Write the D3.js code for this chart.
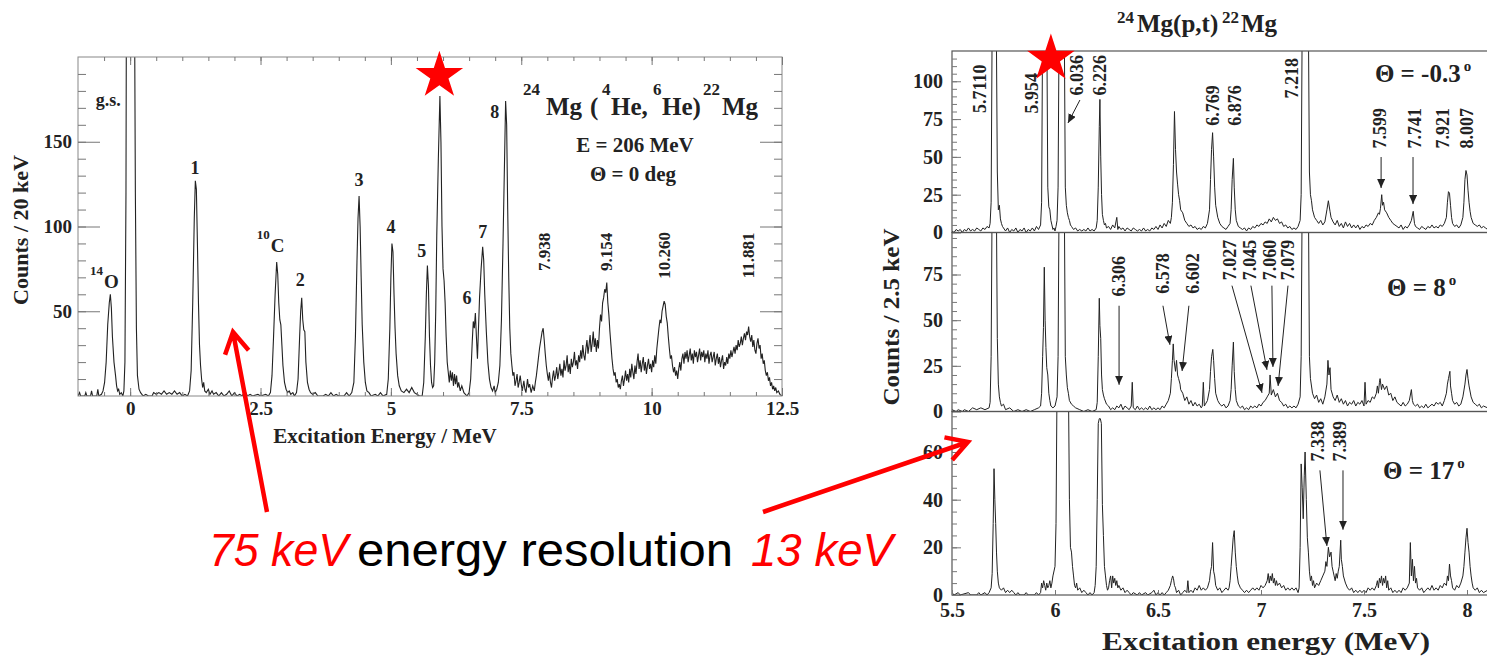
<!DOCTYPE html>
<html>
<head>
<meta charset="utf-8">
<script src="https://cdn.jsdelivr.net/npm/d3@7"></script>
<style>
  body { margin: 0; background: #fff; }
  svg { display: block; }
</style>
</head>
<body>
<svg id="chart" width="1487" height="656"></svg>
<script>
// ---- left spectrum: 24Mg(4He,6He)22Mg, [MeV, counts / 20 keV]
const leftSpectrum = [
  [-1.00,0],[-0.97,2],[-0.95,0],[-0.87,0],[-0.85,2],[-0.83,0],[-0.76,0],[-0.74,3],[-0.72,0],[-0.64,0],[-0.62,4],[-0.60,0],
  [-0.55,1],[-0.52,3],[-0.49,8],[-0.46,20],[-0.43,42],[-0.40,55],[-0.38,60],[-0.36,52],[-0.34,35],[-0.31,20],[-0.28,12],
  [-0.26,6],[-0.24,3],[-0.22,4],[-0.20,1],[-0.17,2],[-0.14,0],[-0.12,3],[-0.10,20],[-0.08,120],[-0.07,260],[0.08,260],
  [0.10,120],[0.12,40],[0.14,12],[0.17,4],[0.20,2],[0.25,0],[0.30,1],[0.35,0],[0.42,0],[0.45,2],[0.50,1],[0.55,2],[0.60,1],
  [0.65,3],[0.70,1],[0.75,2],[0.80,1],[0.85,3],[0.90,1],[0.95,2],[1.00,0],[1.05,1],[1.10,0],[1.14,3],[1.17,15],[1.20,55],
  [1.23,105],[1.25,127],[1.27,122],[1.29,90],[1.31,55],[1.33,30],[1.35,18],[1.37,10],[1.39,5],[1.41,8],[1.43,3],[1.46,2],
  [1.50,4],[1.53,1],[1.57,3],[1.60,1],[1.65,2],[1.70,0],[1.75,2],[1.80,0],[1.85,1],[1.90,3],[1.95,0],[2.00,2],[2.05,0],
  [2.10,1],[2.15,0],[2.20,3],[2.25,0],[2.30,1],[2.35,0],[2.45,1],[2.50,0],[2.60,1],[2.65,0],[2.69,2],[2.72,12],[2.75,35],
  [2.78,60],[2.81,79],[2.83,72],[2.85,55],[2.87,45],[2.89,42],[2.91,30],[2.93,18],[2.96,8],[2.99,4],[3.02,2],[3.05,3],
  [3.08,1],[3.12,2],[3.15,0],[3.19,2],[3.22,10],[3.25,35],[3.27,50],[3.29,58],[3.31,45],[3.33,39],[3.35,38],[3.37,20],
  [3.40,8],[3.43,4],[3.46,2],[3.50,1],[3.55,2],[3.60,0],[3.70,0],[3.75,1],[3.80,0],[3.85,2],[3.90,0],[3.95,1],[4.00,0],
  [4.10,0],[4.15,2],[4.20,0],[4.25,2],[4.29,8],[4.32,35],[4.35,80],[4.37,105],[4.39,118],[4.41,100],[4.43,70],[4.45,42],
  [4.48,20],[4.51,8],[4.54,3],[4.58,2],[4.62,0],[4.70,1],[4.75,0],[4.80,2],[4.85,0],[4.92,1],[4.95,10],[4.98,40],[5.00,70],
  [5.02,90],[5.04,85],[5.06,60],[5.08,40],[5.10,25],[5.13,12],[5.16,6],[5.20,3],[5.25,2],[5.30,4],[5.35,2],[5.40,5],
  [5.45,2],[5.50,1],[5.55,0],[5.60,0],[5.63,8],[5.66,35],[5.68,60],[5.70,77],[5.72,65],[5.74,35],[5.76,18],[5.78,8],
  [5.80,5],[5.82,6],[5.84,20],[5.86,50],[5.88,95],[5.91,140],[5.94,177],[5.96,150],[5.98,100],[6.00,75],[6.02,68],
  [6.04,55],[6.06,35],[6.08,20],[6.10,14],[6.12,8],[6.14,15],[6.16,9],[6.18,14],[6.20,6],[6.22,13],[6.24,7],[6.26,12],
  [6.28,5],[6.30,8],[6.33,3],[6.36,6],[6.40,2],[6.43,1],[6.46,0],[6.50,2],[6.53,10],[6.56,32],[6.58,44],[6.60,40],
  [6.62,49],[6.64,35],[6.66,22],[6.68,40],[6.70,58],[6.73,75],[6.76,88],[6.78,80],[6.80,60],[6.83,38],[6.86,20],[6.89,10],
  [6.92,5],[6.95,3],[6.98,6],[7.00,2],[7.03,4],[7.06,8],[7.09,18],[7.12,45],[7.15,90],[7.18,140],[7.20,174],[7.22,160],
  [7.24,110],[7.26,70],[7.28,40],[7.30,25],[7.32,18],[7.34,12],[7.36,14],[7.38,6],[7.40,9],[7.42,13],[7.44,5],[7.46,8],
  [7.48,12],[7.50,7],[7.52,3],[7.55,9],[7.57,4],[7.59,2],[7.62,10],[7.64,5],[7.66,7],[7.69,2],[7.72,6],[7.75,3],[7.77,8],
  [7.79,12],[7.82,20],[7.85,28],[7.88,34],[7.90,38],[7.92,40],[7.94,33],[7.96,25],[7.98,18],[8.00,13],[8.02,9],[8.04,14],
  [8.06,8],[8.08,5],[8.10,11],[8.12,15],[8.14,9],[8.16,12],[8.18,17],[8.20,10],[8.22,14],[8.24,19],[8.26,12],[8.28,16],
  [8.30,11],[8.32,21],[8.34,15],[8.36,18],[8.38,24],[8.40,14],[8.42,19],[8.44,13],[8.46,22],[8.48,17],[8.50,20],[8.52,26],
  [8.54,18],[8.56,21],[8.58,16],[8.60,24],[8.62,20],[8.64,27],[8.66,22],[8.68,30],[8.70,24],[8.72,21],[8.74,28],[8.76,33],
  [8.78,25],[8.80,30],[8.82,36],[8.84,26],[8.86,31],[8.88,38],[8.90,29],[8.92,34],[8.94,26],[8.96,33],[8.98,28],[9.00,40],
  [9.02,48],[9.04,44],[9.06,55],[9.08,58],[9.10,63],[9.12,61],[9.14,67],[9.16,55],[9.18,48],[9.20,38],[9.22,30],[9.24,22],
  [9.26,16],[9.28,12],[9.30,14],[9.32,8],[9.34,10],[9.36,5],[9.38,7],[9.40,4],[9.42,9],[9.44,12],[9.46,6],[9.48,10],
  [9.50,15],[9.52,9],[9.54,13],[9.56,8],[9.58,16],[9.60,11],[9.62,19],[9.64,14],[9.66,10],[9.68,18],[9.70,13],[9.72,20],
  [9.74,25],[9.76,16],[9.78,21],[9.80,14],[9.82,19],[9.84,23],[9.86,15],[9.88,20],[9.90,13],[9.92,18],[9.94,22],[9.96,16],
  [9.98,19],[10.00,14],[10.02,21],[10.04,17],[10.06,24],[10.08,19],[10.10,28],[10.12,34],[10.14,40],[10.16,45],[10.18,43],
  [10.20,50],[10.22,53],[10.24,56],[10.26,54],[10.28,47],[10.30,43],[10.32,35],[10.34,28],[10.36,22],[10.38,24],[10.40,18],
  [10.42,14],[10.44,17],[10.46,12],[10.48,15],[10.50,10],[10.52,16],[10.54,20],[10.56,15],[10.58,22],[10.60,25],[10.62,19],
  [10.64,26],[10.66,22],[10.68,27],[10.70,20],[10.72,24],[10.74,28],[10.76,21],[10.78,25],[10.80,19],[10.82,27],[10.84,23],
  [10.86,26],[10.88,20],[10.90,24],[10.92,28],[10.94,21],[10.96,26],[10.98,23],[11.00,27],[11.02,20],[11.04,25],[11.06,22],
  [11.08,27],[11.10,19],[11.12,24],[11.14,26],[11.16,20],[11.18,23],[11.20,26],[11.22,18],[11.24,22],[11.26,25],[11.28,19],
  [11.30,23],[11.32,17],[11.34,21],[11.36,24],[11.38,16],[11.40,20],[11.42,18],[11.44,23],[11.46,19],[11.48,25],[11.50,22],
  [11.52,27],[11.54,23],[11.56,26],[11.58,29],[11.60,25],[11.62,30],[11.64,27],[11.66,33],[11.68,29],[11.70,31],[11.72,35],
  [11.74,30],[11.76,34],[11.78,37],[11.80,33],[11.82,38],[11.84,36],[11.86,41],[11.88,35],[11.90,32],[11.92,36],[11.94,29],
  [11.96,33],[11.98,27],[12.00,25],[12.02,31],[12.04,34],[12.06,28],[12.08,30],[12.10,22],[12.12,25],[12.14,19],[12.16,21],
  [12.18,15],[12.20,12],[12.22,14],[12.24,9],[12.26,11],[12.28,6],[12.30,8],[12.32,4],[12.34,6],[12.36,3],[12.38,5],
  [12.40,2],[12.43,3],[12.46,1],[12.50,0]
];

// ---- right spectra: 24Mg(p,t)22Mg, [MeV, counts / 2.5 keV]
const specMinus03 = [
  [5.50,1],[5.51,0],[5.52,2],[5.53,1],[5.54,2],[5.55,0],[5.56,2],[5.57,1],[5.58,3],[5.59,1],[5.60,2],[5.61,1],[5.62,3],
  [5.63,2],[5.64,1],[5.65,3],[5.66,2],[5.67,4],[5.68,3],[5.685,6],[5.69,20],[5.695,140],[5.715,140],[5.72,40],[5.725,15],
  [5.73,18],[5.735,9],[5.74,6],[5.745,4],[5.75,3],[5.76,1],[5.77,3],[5.78,0],[5.79,2],[5.80,1],[5.81,3],[5.82,0],[5.83,2],
  [5.84,1],[5.85,3],[5.86,0],[5.87,2],[5.88,1],[5.89,3],[5.90,1],[5.91,4],[5.92,2],[5.93,5],[5.935,20],[5.94,140],
  [5.96,140],[5.965,30],[5.97,17],[5.975,15],[5.98,8],[5.985,5],[5.99,2],[5.995,3],[6.00,1],[6.005,4],[6.01,8],[6.015,30],
  [6.02,140],[6.045,140],[6.05,30],[6.055,18],[6.06,13],[6.065,10],[6.07,8],[6.075,5],[6.08,4],[6.085,3],[6.09,2],[6.10,3],
  [6.11,1],[6.12,2],[6.13,1],[6.14,2],[6.15,1],[6.16,3],[6.17,1],[6.18,2],[6.19,1],[6.20,3],[6.205,8],[6.21,30],[6.215,70],
  [6.218,88],[6.222,50],[6.226,25],[6.23,12],[6.235,8],[6.24,5],[6.245,6],[6.25,3],[6.26,4],[6.27,2],[6.28,5],[6.29,3],
  [6.30,10],[6.305,2],[6.31,4],[6.32,2],[6.33,3],[6.34,1],[6.35,3],[6.36,2],[6.37,1],[6.38,3],[6.39,2],[6.40,1],[6.41,2],
  [6.42,1],[6.43,3],[6.44,1],[6.45,2],[6.46,1],[6.47,3],[6.48,2],[6.49,4],[6.50,2],[6.51,5],[6.52,3],[6.53,6],[6.54,4],
  [6.55,8],[6.56,6],[6.565,10],[6.57,20],[6.575,45],[6.58,80],[6.585,55],[6.59,40],[6.595,32],[6.60,25],[6.605,21],
  [6.61,15],[6.62,13],[6.63,8],[6.64,6],[6.65,4],[6.66,5],[6.67,3],[6.68,4],[6.69,2],[6.70,3],[6.71,2],[6.72,4],[6.73,3],
  [6.74,6],[6.75,15],[6.755,35],[6.76,55],[6.765,66],[6.77,50],[6.775,30],[6.78,18],[6.79,10],[6.80,6],[6.81,4],[6.82,3],
  [6.83,2],[6.84,4],[6.85,6],[6.855,15],[6.86,35],[6.866,49],[6.87,30],[6.875,15],[6.88,8],[6.89,4],[6.90,3],[6.91,2],
  [6.92,3],[6.93,1],[6.94,3],[6.95,2],[6.96,4],[6.97,3],[6.98,5],[6.99,4],[7.00,6],[7.01,5],[7.02,7],[7.03,6],[7.04,9],
  [7.05,7],[7.06,10],[7.07,8],[7.08,9],[7.09,6],[7.10,7],[7.11,4],[7.12,5],[7.13,3],[7.14,4],[7.15,2],[7.16,3],[7.17,2],
  [7.18,4],[7.19,8],[7.195,25],[7.20,140],[7.23,140],[7.235,40],[7.24,25],[7.245,21],[7.25,15],[7.26,10],[7.27,8],[7.28,6],
  [7.29,8],[7.30,5],[7.31,7],[7.32,15],[7.327,21],[7.335,14],[7.34,10],[7.35,7],[7.36,5],[7.37,8],[7.38,4],[7.39,6],
  [7.40,3],[7.41,7],[7.42,4],[7.43,6],[7.44,3],[7.45,5],[7.46,3],[7.47,5],[7.48,2],[7.49,4],[7.50,3],[7.51,5],[7.52,4],
  [7.53,6],[7.54,5],[7.55,8],[7.56,10],[7.57,13],[7.575,12],[7.58,16],[7.586,25],[7.59,18],[7.595,20],[7.60,15],[7.61,13],
  [7.62,10],[7.63,8],[7.64,6],[7.65,5],[7.66,4],[7.67,3],[7.68,5],[7.69,2],[7.70,4],[7.71,3],[7.72,5],[7.73,8],[7.739,14],
  [7.745,6],[7.75,4],[7.76,3],[7.77,2],[7.78,4],[7.79,3],[7.80,2],[7.81,4],[7.82,3],[7.83,5],[7.84,3],[7.85,4],[7.86,3],
  [7.87,5],[7.88,4],[7.89,6],[7.90,10],[7.905,20],[7.91,27],[7.915,26],[7.92,18],[7.925,10],[7.93,6],[7.94,4],[7.95,5],
  [7.96,3],[7.97,5],[7.98,10],[7.985,20],[7.99,35],[7.995,41],[8.00,38],[8.005,28],[8.01,20],[8.015,14],[8.02,10],[8.03,6],
  [8.04,5],[8.05,4],[8.06,5],[8.07,3],[8.08,4],[8.09,3],[8.10,2]
];
const spec8 = [
  [5.50,1],[5.52,0],[5.53,1],[5.55,0],[5.56,1],[5.58,0],[5.60,2],[5.62,1],[5.64,2],[5.66,1],[5.68,2],[5.685,5],[5.69,30],
  [5.695,120],[5.715,120],[5.72,40],[5.725,15],[5.73,8],[5.735,5],[5.74,3],[5.75,4],[5.76,1],[5.78,2],[5.80,0],[5.82,1],
  [5.84,0],[5.86,1],[5.88,0],[5.90,1],[5.92,2],[5.93,3],[5.935,10],[5.94,30],[5.944,46],[5.948,79],[5.952,50],[5.956,35],
  [5.96,24],[5.965,20],[5.97,10],[5.975,6],[5.98,3],[5.99,2],[6.00,3],[6.01,8],[6.015,30],[6.02,120],[6.045,120],[6.05,30],
  [6.055,20],[6.06,13],[6.065,10],[6.07,6],[6.08,4],[6.09,3],[6.10,2],[6.12,1],[6.14,0],[6.16,1],[6.18,0],[6.20,1],
  [6.205,5],[6.21,30],[6.215,62],[6.218,47],[6.222,40],[6.226,20],[6.23,12],[6.235,9],[6.24,7],[6.25,4],[6.26,3],[6.27,1],
  [6.28,2],[6.29,1],[6.30,3],[6.31,2],[6.32,4],[6.33,1],[6.34,3],[6.35,2],[6.36,1],[6.37,3],[6.375,16],[6.38,2],[6.39,1],
  [6.40,3],[6.41,1],[6.42,2],[6.43,1],[6.44,2],[6.45,1],[6.46,3],[6.47,1],[6.48,2],[6.49,1],[6.50,2],[6.51,1],[6.52,3],
  [6.53,2],[6.54,4],[6.55,6],[6.56,10],[6.565,18],[6.57,28],[6.574,37],[6.578,28],[6.585,22],[6.59,28],[6.595,20],[6.60,18],
  [6.607,15],[6.61,12],[6.62,10],[6.63,6],[6.64,8],[6.65,4],[6.66,6],[6.67,3],[6.68,5],[6.69,3],[6.70,4],[6.71,2],[6.715,3],
  [6.72,16],[6.725,3],[6.73,4],[6.74,6],[6.75,12],[6.755,22],[6.76,30],[6.766,34],[6.77,28],[6.775,18],[6.78,10],[6.79,6],
  [6.80,4],[6.81,3],[6.82,4],[6.83,2],[6.84,3],[6.85,6],[6.855,12],[6.86,25],[6.866,38],[6.87,22],[6.875,12],[6.88,6],
  [6.89,3],[6.90,2],[6.91,3],[6.92,1],[6.93,2],[6.94,1],[6.95,3],[6.96,2],[6.97,3],[6.98,2],[6.99,4],[7.00,3],[7.01,5],
  [7.02,6],[7.03,8],[7.04,10],[7.044,20],[7.05,9],[7.06,12],[7.07,8],[7.08,10],[7.09,6],[7.10,5],[7.11,3],[7.12,4],[7.13,2],
  [7.14,3],[7.15,2],[7.16,3],[7.17,2],[7.18,4],[7.19,8],[7.195,30],[7.20,120],[7.23,120],[7.235,30],[7.24,18],[7.25,10],
  [7.26,7],[7.27,9],[7.28,5],[7.29,7],[7.30,4],[7.31,8],[7.32,15],[7.325,28],[7.33,20],[7.335,24],[7.34,12],[7.35,8],
  [7.36,6],[7.37,9],[7.38,5],[7.39,7],[7.40,4],[7.41,6],[7.42,3],[7.43,5],[7.44,4],[7.45,6],[7.46,3],[7.47,5],[7.48,4],
  [7.49,6],[7.50,3],[7.505,16],[7.51,4],[7.52,6],[7.53,5],[7.54,8],[7.55,7],[7.56,10],[7.565,14],[7.57,10],[7.575,16],
  [7.578,18],[7.585,12],[7.59,15],[7.60,12],[7.61,14],[7.62,9],[7.63,10],[7.64,6],[7.65,8],[7.66,5],[7.67,4],[7.68,3],
  [7.69,5],[7.70,3],[7.71,4],[7.72,6],[7.73,12],[7.735,6],[7.74,4],[7.75,3],[7.76,4],[7.77,2],[7.78,3],[7.79,2],[7.80,4],
  [7.81,2],[7.82,3],[7.83,4],[7.84,3],[7.85,5],[7.86,4],[7.87,5],[7.88,3],[7.89,6],[7.90,10],[7.905,15],[7.91,18],
  [7.917,22],[7.92,14],[7.925,10],[7.93,6],[7.94,4],[7.95,5],[7.96,3],[7.97,4],[7.98,8],[7.99,15],[7.995,20],[8.00,23],
  [8.005,18],[8.01,14],[8.02,8],[8.03,5],[8.04,4],[8.05,3],[8.06,4],[8.07,2],[8.08,3],[8.10,2]
];
const spec17 = [
  [5.50,1],[5.51,0],[5.53,1],[5.54,0],[5.58,1],[5.59,0],[5.62,0],[5.63,1],[5.64,0],[5.66,1],[5.67,0],[5.68,1],[5.69,3],
  [5.695,9],[5.70,30],[5.704,53],[5.708,40],[5.712,30],[5.716,18],[5.72,10],[5.725,5],[5.73,3],[5.74,2],[5.75,3],[5.76,1],
  [5.77,2],[5.78,1],[5.79,2],[5.80,1],[5.81,0],[5.82,1],[5.83,0],[5.85,0],[5.86,1],[5.87,0],[5.90,0],[5.91,1],[5.92,0],
  [5.93,1],[5.935,5],[5.94,3],[5.945,6],[5.95,4],[5.955,2],[5.96,5],[5.965,3],[5.97,4],[5.975,6],[5.98,3],[5.985,5],
  [5.99,8],[6.00,12],[6.005,30],[6.01,90],[6.065,90],[6.07,40],[6.075,20],[6.08,18],[6.085,12],[6.09,8],[6.095,4],[6.10,3],
  [6.105,5],[6.11,2],[6.12,3],[6.13,1],[6.14,2],[6.15,1],[6.16,0],[6.17,1],[6.18,0],[6.19,1],[6.195,4],[6.20,12],[6.205,40],
  [6.21,72],[6.215,74],[6.22,74],[6.225,72],[6.23,38],[6.235,25],[6.24,12],[6.245,8],[6.25,4],[6.255,2],[6.26,3],[6.265,6],
  [6.27,8],[6.275,3],[6.28,8],[6.285,5],[6.29,7],[6.295,4],[6.30,6],[6.305,3],[6.31,4],[6.32,2],[6.33,3],[6.34,1],[6.35,2],
  [6.36,1],[6.37,0],[6.38,1],[6.40,0],[6.41,1],[6.42,0],[6.44,1],[6.45,0],[6.47,1],[6.48,2],[6.49,0],[6.50,1],[6.51,0],
  [6.52,1],[6.53,0],[6.54,1],[6.55,2],[6.56,4],[6.565,6],[6.571,8],[6.575,7],[6.58,4],[6.585,3],[6.59,1],[6.60,2],[6.61,0],
  [6.62,1],[6.63,2],[6.64,1],[6.645,6],[6.65,1],[6.66,2],[6.67,1],[6.68,3],[6.69,2],[6.70,4],[6.71,2],[6.72,3],[6.73,2],
  [6.74,3],[6.75,6],[6.755,10],[6.76,12],[6.765,22],[6.77,10],[6.775,8],[6.78,4],[6.79,2],[6.80,3],[6.81,1],[6.82,2],
  [6.83,3],[6.84,2],[6.845,3],[6.85,6],[6.855,12],[6.86,18],[6.865,24],[6.87,27],[6.875,18],[6.88,12],[6.885,8],[6.89,5],
  [6.90,3],[6.91,2],[6.92,1],[6.93,2],[6.94,1],[6.95,2],[6.96,3],[6.97,2],[6.98,3],[6.99,2],[7.00,4],[7.01,3],[7.02,4],
  [7.03,6],[7.035,9],[7.04,5],[7.045,8],[7.05,6],[7.055,9],[7.06,5],[7.065,7],[7.07,4],[7.075,6],[7.08,4],[7.09,5],[7.10,3],
  [7.11,4],[7.12,2],[7.13,3],[7.14,2],[7.15,3],[7.16,2],[7.17,3],[7.18,1],[7.185,3],[7.19,20],[7.195,55],[7.20,45],
  [7.205,32],[7.21,50],[7.214,60],[7.22,40],[7.225,24],[7.23,18],[7.235,10],[7.24,6],[7.245,8],[7.25,4],[7.255,6],[7.26,3],
  [7.27,5],[7.28,4],[7.29,6],[7.30,8],[7.31,10],[7.315,14],[7.32,12],[7.327,20],[7.333,16],[7.34,18],[7.345,12],[7.35,10],
  [7.355,8],[7.36,6],[7.365,9],[7.37,7],[7.375,10],[7.38,12],[7.387,23],[7.39,15],[7.395,12],[7.40,8],[7.41,5],[7.42,3],
  [7.43,2],[7.44,3],[7.45,1],[7.46,2],[7.47,1],[7.48,2],[7.49,1],[7.50,2],[7.51,1],[7.52,3],[7.53,2],[7.54,3],[7.55,2],
  [7.56,4],[7.565,6],[7.57,3],[7.575,7],[7.58,5],[7.585,8],[7.59,4],[7.595,7],[7.60,5],[7.605,8],[7.61,3],[7.615,6],
  [7.62,2],[7.63,3],[7.64,1],[7.65,2],[7.66,1],[7.67,2],[7.68,1],[7.69,3],[7.70,2],[7.71,3],[7.72,5],[7.725,22],[7.73,8],
  [7.735,15],[7.74,6],[7.745,12],[7.75,5],[7.755,7],[7.76,3],[7.77,2],[7.78,3],[7.79,1],[7.80,2],[7.81,3],[7.82,2],[7.83,4],
  [7.84,2],[7.85,3],[7.86,2],[7.87,4],[7.88,3],[7.89,5],[7.90,4],[7.905,8],[7.91,6],[7.915,13],[7.92,8],[7.925,6],[7.93,3],
  [7.94,2],[7.95,4],[7.96,3],[7.97,5],[7.98,8],[7.985,12],[7.99,18],[7.995,24],[8.00,28],[8.005,22],[8.01,18],[8.015,12],
  [8.02,8],[8.025,5],[8.03,3],[8.04,2],[8.05,3],[8.06,1],[8.07,2],[8.08,1],[8.10,2]
];

// ---- tick labels
const leftXTicks = [0, 2.5, 5, 7.5, 10, 12.5];
const leftYTicks = [50, 100, 150];
const rightXTicks = [5.5, 6, 6.5, 7, 7.5, 8];
const rightYTicks = [[0, 25, 50, 75, 100], [0, 25, 50, 75], [0, 20, 40, 60]];

// ---- annotations, in data coordinates
const leftPeakLabels = [["g.s.", -0.42, 171], ["1", 1.245, 131], ["2", 3.26, 65], ["3", 4.39, 124], ["4", 5.0, 96],
  ["5", 5.59, 82], ["6", 6.46, 54], ["7", 6.76, 93], ["8", 6.99, 164]];
const leftIsotopeLabels = [["14", "O", -0.77, 64], ["10", "C", 2.43, 85]];
const leftEnergyLabels = [["7.938", 7.95, 85], ["9.154", 9.14, 85], ["10.260", 10.25, 83], ["11.881", 11.86, 83]];
const leftStar = [5.93, 189];
const rightStar = [5.98, 115];
const levelLabels = [
  [["5.7110", 5.636, 95], ["5.954", 5.888, 92], ["6.036", 6.107, 104], ["6.226", 6.218, 104], ["6.769", 6.767, 84],
   ["6.876", 6.874, 84], ["7.218", 7.150, 102], ["7.599", 7.578, 69], ["7.741", 7.748, 69], ["7.921", 7.884, 69],
   ["8.007", 8.0, 69]],
  [["6.306", 6.311, 74], ["6.578", 6.524, 75.5], ["6.602", 6.670, 75.5], ["7.027", 6.850, 83], ["7.045", 6.947, 83],
   ["7.060", 7.044, 83], ["7.079", 7.131, 83]],
  [["7.338", 7.277, 64.5], ["7.389", 7.383, 64.5]]
];
const levelArrows = [
  [[6.121, 87.6, 6.063, 72.4], [7.583, 49.9, 7.583, 29.4], [7.738, 49.9, 7.738, 18.8]],
  [[6.311, 57.9, 6.311, 14.6], [6.524, 57.9, 6.558, 36.5], [6.650, 57.9, 6.617, 22.2], [6.859, 68.9, 7.005, 10.2],
   [6.951, 68.9, 7.029, 22.8], [7.053, 68.9, 7.058, 24.4], [7.131, 68.9, 7.083, 14.0]],
  [[7.286, 52.3, 7.320, 20.6], [7.398, 52.3, 7.398, 27.4]]
];
const angleLabels = [["-0.3", 7.553, 99.5], ["8", 7.612, 63.4], ["17", 7.592, 48.5]];

const serif = '"Liberation Serif", "Times New Roman", serif';
const ink = '#222';
const svg = d3.select('#chart');
const defs = svg.append('defs');

defs.append('marker')
  .attr('id', 'head')
  .attr('markerUnits', 'userSpaceOnUse')
  .attr('markerWidth', 10).attr('markerHeight', 8)
  .attr('refX', 9).attr('refY', 4)
  .attr('orient', 'auto')
  .append('path').attr('d', 'M0,0L9,4L0,8Z').attr('fill', ink);

const styleAxis = (g, size) => {
  g.select('.domain').remove();
  g.selectAll('line').attr('stroke', '#777');
  g.selectAll('text')
    .attr('font-family', serif)
    .attr('font-weight', 'bold')
    .attr('font-size', size)
    .attr('fill', ink);
};

const spectrumLine = (x, y) => d3.line().x(d => x(d[0])).y(d => y(d[1]));

const rotatedLabel = (g, txt, px, py, size) => g.append('text')
  .attr('transform', `translate(${px},${py}) rotate(-90)`)
  .attr('text-anchor', 'middle')
  .attr('dominant-baseline', 'central')
  .attr('font-family', serif).attr('font-weight', 'bold')
  .attr('font-size', size).attr('fill', ink)
  .text(txt);

// ================= left chart =================
const lx = d3.scaleLinear().domain([-1, 12.5]).range([78, 782]);
const ly = d3.scaleLinear().domain([0, 200]).range([396, 57]);
const left = svg.append('g');

defs.append('clipPath').attr('id', 'clip-left')
  .append('rect').attr('x', 78).attr('y', 57).attr('width', 704).attr('height', 339);

left.append('path')
  .datum(leftSpectrum)
  .attr('clip-path', 'url(#clip-left)')
  .attr('fill', 'none')
  .attr('stroke', ink)
  .attr('stroke-width', 1.1)
  .attr('d', spectrumLine(lx, ly));

left.append('rect')
  .attr('x', 78).attr('y', 57).attr('width', 704).attr('height', 339)
  .attr('fill', 'none').attr('stroke', '#888').attr('stroke-width', 1);

// ticks, all pointing inward
const lMinorY = d3.range(10, 200, 10);
const lMinorX = d3.range(-0.5, 12.5, 0.5);
left.append('g').attr('transform', 'translate(78,0)')
  .call(d3.axisLeft(ly).tickValues(lMinorY).tickSize(-8).tickFormat('')).call(styleAxis, 19);
left.append('g').attr('transform', 'translate(78,0)')
  .call(d3.axisLeft(ly).tickValues(leftYTicks).tickSize(-22).tickPadding(6)).call(styleAxis, 19);
left.append('g').attr('transform', 'translate(782,0)')
  .call(d3.axisRight(ly).tickValues(lMinorY).tickSize(-8).tickFormat('')).call(styleAxis, 19);
left.append('g').attr('transform', 'translate(782,0)')
  .call(d3.axisRight(ly).tickValues(leftYTicks).tickSize(-22).tickFormat('')).call(styleAxis, 19);
left.append('g').attr('transform', 'translate(0,57)')
  .call(d3.axisTop(lx).tickValues(lMinorX).tickSize(-4).tickFormat('')).call(styleAxis, 19);
left.append('g').attr('transform', 'translate(0,57)')
  .call(d3.axisTop(lx).tickValues(leftXTicks).tickSize(-8).tickFormat('')).call(styleAxis, 19);
left.append('g').attr('transform', 'translate(0,396)')
  .call(d3.axisBottom(lx).tickValues(lMinorX).tickSize(-4).tickFormat('')).call(styleAxis, 19);
left.append('g').attr('transform', 'translate(0,396)')
  .call(d3.axisBottom(lx).tickValues(leftXTicks).tickSize(-8).tickPadding(6).tickFormat(d => String(d)))
  .call(styleAxis, 19);

left.append('text')
  .attr('x', 385).attr('y', 443).attr('text-anchor', 'middle')
  .attr('font-family', serif).attr('font-weight', 'bold').attr('font-size', 21).attr('fill', ink)
  .text('Excitation Energy / MeV');
left.append('text')
  .attr('transform', 'translate(28,230) rotate(-90)').attr('text-anchor', 'middle')
  .attr('font-family', serif).attr('font-weight', 'bold').attr('font-size', 21).attr('fill', ink)
  .attr('textLength', 150).attr('lengthAdjust', 'spacingAndGlyphs')
  .text('Counts / 20 keV');

// peak labels
left.selectAll('.peak')
  .data(leftPeakLabels).enter().append('text')
  .attr('x', d => lx(d[1])).attr('y', d => ly(d[2]))
  .attr('text-anchor', 'middle')
  .attr('font-family', serif).attr('font-weight', 'bold').attr('font-size', 18).attr('fill', ink)
  .text(d => d[0]);

leftIsotopeLabels.forEach(d => {
  const t = left.append('text')
    .attr('x', lx(d[2])).attr('y', ly(d[3]))
    .attr('font-family', serif).attr('font-weight', 'bold').attr('fill', ink);
  t.append('tspan').attr('font-size', 13).attr('dy', -13).text(d[0]);
  t.append('tspan').attr('font-size', 19).attr('dy', 13).attr('dx', 1).text(d[1]);
});

leftEnergyLabels.forEach(d => rotatedLabel(left, d[0], lx(d[1]), ly(d[2]), 17));

// reaction title
const lt = left.append('text').attr('font-family', serif).attr('font-weight', 'bold').attr('fill', ink);
[['24', 523, 95, 17], ['Mg', 546, 115, 25], ['(', 590, 115, 25], ['4', 602, 95, 17], ['He,', 611, 115, 25],
 ['6', 653, 95, 17], ['He)', 662, 115, 25], ['22', 703, 95, 17], ['Mg', 722, 115, 25]]
  .forEach(p => lt.append('tspan').attr('x', p[1]).attr('y', p[2]).attr('font-size', p[3]).text(p[0]));

left.append('text')
  .attr('x', 635).attr('y', 152).attr('text-anchor', 'middle')
  .attr('font-family', serif).attr('font-weight', 'bold').attr('font-size', 21).attr('fill', ink)
  .text('E = 206 MeV');
left.append('text')
  .attr('x', 633).attr('y', 181).attr('text-anchor', 'middle')
  .attr('font-family', serif).attr('font-weight', 'bold').attr('font-size', 21).attr('fill', ink)
  .text('\u0398 = 0 deg');

const star = d3.symbol().type(d3.symbolStar).size(700);
left.append('path')
  .attr('transform', `translate(${lx(leftStar[0])},${ly(leftStar[1])})`)
  .attr('d', star).attr('fill', '#ff0000');

// ================= right chart =================
const rx = d3.scaleLinear().domain([5.5, 8.1]).range([952, 1487.6]);
const panels = [
  { data: specMinus03, max: 120, top: 51, bottom: 232.5 },
  { data: spec8, max: 98, top: 232.5, bottom: 411.5 },
  { data: spec17, max: 77, top: 411.5, bottom: 595 }
];
const right = svg.append('g');

panels.forEach((p, i) => {
  const y = d3.scaleLinear().domain([0, p.max]).range([p.bottom, p.top]);
  p.y = y;
  defs.append('clipPath').attr('id', `clip-r${i}`)
    .append('rect').attr('x', 952).attr('y', p.top).attr('width', 540).attr('height', p.bottom - p.top);

  right.append('path')
    .datum(p.data)
    .attr('clip-path', `url(#clip-r${i})`)
    .attr('fill', 'none')
    .attr('stroke', ink)
    .attr('stroke-width', 1)
    .attr('d', spectrumLine(rx, y));

  right.append('rect')
    .attr('x', 952).attr('y', p.top).attr('width', 540).attr('height', p.bottom - p.top)
    .attr('fill', 'none').attr('stroke', '#555').attr('stroke-width', 1.2);

  right.append('g').attr('transform', 'translate(952,0)')
    .call(d3.axisLeft(y).tickValues(d3.range(5, p.max, 5)).tickSize(-5).tickFormat('')).call(styleAxis, 20);
  right.append('g').attr('transform', 'translate(952,0)')
    .call(d3.axisLeft(y).tickValues(rightYTicks[i]).tickSize(-9).tickPadding(9).tickFormat(d => String(d)))
    .call(styleAxis, 20);

  levelLabels[i].forEach(d => rotatedLabel(right, d[0], rx(d[1]), y(d[2]), 18));

  right.selectAll(`.arrow${i}`)
    .data(levelArrows[i]).enter().append('line')
    .attr('x1', d => rx(d[0])).attr('y1', d => y(d[1]))
    .attr('x2', d => rx(d[2])).attr('y2', d => y(d[3]))
    .attr('stroke', ink).attr('stroke-width', 1)
    .attr('marker-end', 'url(#head)');

  const a = angleLabels[i];
  const t = right.append('text')
    .attr('x', rx(a[1])).attr('y', y(a[2]))
    .attr('font-family', serif).attr('font-weight', 'bold').attr('fill', ink);
  t.append('tspan').attr('font-size', 25).text(`\u0398 = ${a[0]}`);
  t.append('tspan').attr('font-size', 15).attr('dx', 3).attr('dy', -11).text('o');
});

right.append('g').attr('transform', 'translate(0,595)')
  .call(d3.axisBottom(rx).tickValues(rightXTicks).tickSize(-5).tickPadding(8).tickFormat(d => String(d)))
  .call(styleAxis, 20);

right.append('text')
  .attr('x', 1266).attr('y', 650).attr('text-anchor', 'middle')
  .attr('font-family', serif).attr('font-weight', 'bold').attr('font-size', 26).attr('fill', ink)
  .attr('textLength', 328).attr('lengthAdjust', 'spacingAndGlyphs')
  .text('Excitation energy (MeV)');
right.append('text')
  .attr('transform', 'translate(899,317) rotate(-90)').attr('text-anchor', 'middle')
  .attr('font-family', serif).attr('font-weight', 'bold').attr('font-size', 24).attr('fill', ink)
  .attr('textLength', 177).attr('lengthAdjust', 'spacingAndGlyphs')
  .text('Counts / 2.5 keV');

const rt = right.append('text').attr('font-family', serif).attr('font-weight', 'bold').attr('fill', ink);
[['24', 1117, 23, 17], ['Mg(p,t)', 1137, 32, 25], ['22', 1222, 23, 17], ['Mg', 1241, 32, 25]]
  .forEach(p => rt.append('tspan').attr('x', p[1]).attr('y', p[2]).attr('font-size', p[3]).text(p[0]));

right.append('path')
  .attr('transform', `translate(${rx(rightStar[0])},${panels[0].y(rightStar[1])})`)
  .attr('d', star).attr('fill', '#ff0000');

// ================= resolution annotation =================
const note = svg.append('g');
const redArrow = (x1, y1, x2, y2) => {
  const ang = Math.atan2(y2 - y1, x2 - x1);
  const len = 24, spread = Math.PI / 6;
  const b1 = [x2 - len * Math.cos(ang - spread), y2 - len * Math.sin(ang - spread)];
  const b2 = [x2 - len * Math.cos(ang + spread), y2 - len * Math.sin(ang + spread)];
  note.append('path')
    .attr('d', `M${x1},${y1}L${x2},${y2}M${b1[0]},${b1[1]}L${x2},${y2}L${b2[0]},${b2[1]}`)
    .attr('fill', 'none').attr('stroke', '#ff0000').attr('stroke-width', 4.5)
    .attr('stroke-linejoin', 'miter');
};
redArrow(267, 512, 233, 332);
redArrow(763, 512, 968, 442);

const sans = '"Liberation Sans", Arial, sans-serif';
note.append('text').attr('x', 209).attr('y', 566)
  .attr('font-family', sans).attr('font-style', 'italic').attr('font-size', 46).attr('fill', '#ff0000')
  .attr('textLength', 139).attr('lengthAdjust', 'spacingAndGlyphs')
  .text('75 keV');
note.append('text').attr('x', 357).attr('y', 566)
  .attr('font-family', sans).attr('font-size', 46).attr('fill', '#000')
  .attr('textLength', 376).attr('lengthAdjust', 'spacingAndGlyphs')
  .text('energy resolution');
note.append('text').attr('x', 751).attr('y', 566)
  .attr('font-family', sans).attr('font-style', 'italic').attr('font-size', 46).attr('fill', '#ff0000')
  .attr('textLength', 142).attr('lengthAdjust', 'spacingAndGlyphs')
  .text('13 keV');
</script>
</body>
</html>
